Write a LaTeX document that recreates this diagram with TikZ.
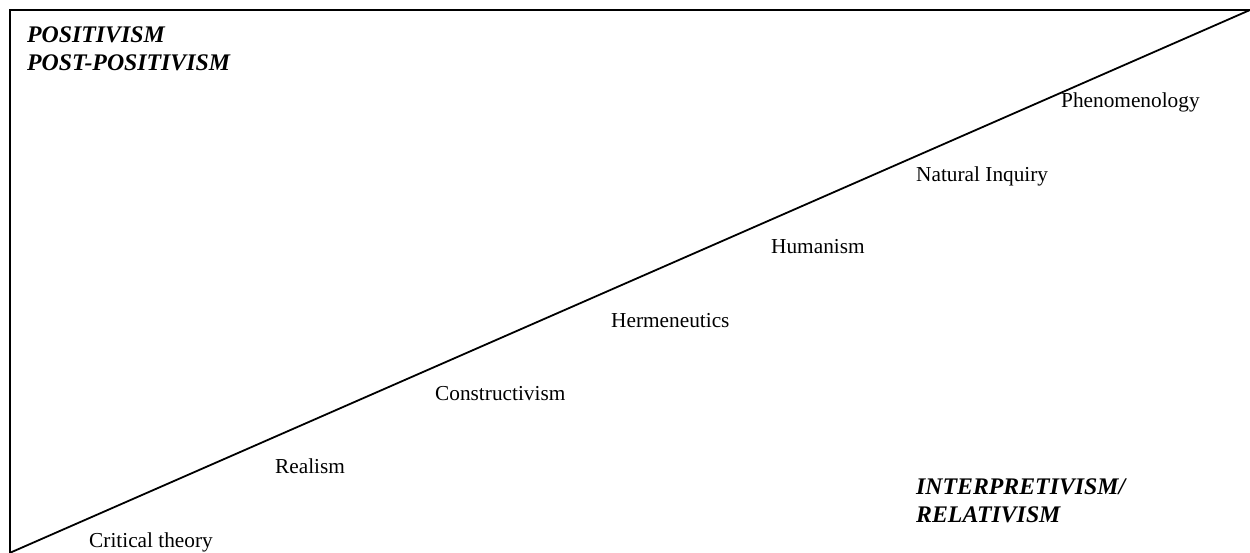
\documentclass[tikz,border=0pt]{standalone}
\usepackage{fontspec}
\setmainfont{Liberation Serif}
\tikzset{
  lbl/.style={anchor=base west, inner sep=0pt, font=\fontsize{21.3}{25}\selectfont},
  para/.style={anchor=base west, inner sep=0pt, font=\fontsize{23.8}{28}\selectfont\bfseries\itshape},
  frame/.style={line width=2pt, line join=miter}
}
\begin{document}
\begin{tikzpicture}[x=1pt,y=-1pt]
\useasboundingbox (0,0) rectangle (1250,552);
\coordinate (bl) at (9.5,553);
\coordinate (tl) at (9.5,10);
\coordinate (tr) at (1250,10);
\draw[frame] (bl) -- (tl) -- (tr);
\draw[line width=1.8pt] (bl) -- (tr);
\node[para] (pos) at (27,42) {POSITIVISM};
\node[para] (ppos) at (27,70) {POST-POSITIVISM};
\node[para] (interp) at (916,494) {INTERPRETIVISM/};
\node[para] (rel) at (916,522) {RELATIVISM};
\node[lbl] (crit) at (89,547) {Critical theory};
\node[lbl] (real) at (275,473) {Realism};
\node[lbl] (cons) at (435,400) {Constructivism};
\node[lbl] (herm) at (611,327) {Hermeneutics};
\node[lbl] (hum) at (771,253) {Humanism};
\node[lbl] (nat) at (916,181) {Natural Inquiry};
\node[lbl] (phen) at (1061,107) {Phenomenology};
\end{tikzpicture}
\end{document}
